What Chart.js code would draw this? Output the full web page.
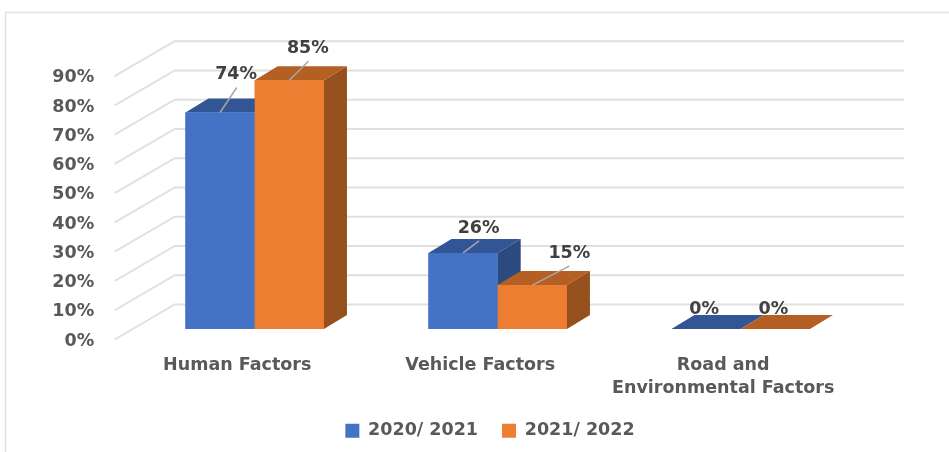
<!DOCTYPE html>
<html>
<head>
<meta charset="utf-8">
<style>
  html, body { margin: 0; padding: 0; background: #fff; }
  canvas { display: block; }
</style>
<script src="https://cdn.jsdelivr.net/npm/chart.js@4/dist/chart.umd.min.js"></script>
</head>
<body>
<canvas id="chart" width="949" height="452"></canvas>
<script>
const categories = ['Human Factors', 'Vehicle Factors', ['Road and', 'Environmental Factors']];
const seriesNames = ['2020/ 2021', '2021/ 2022'];
const values2021 = [74, 26, 0];
const values2022 = [85, 15, 0];
const yTicks = [0, 10, 20, 30, 40, 50, 60, 70, 80, 90];

// Colours per series: front, top, side
const FRONT = ['#4472C4', '#ED7D31'];
const TOP = ['#325596', '#B45F23'];
const SIDE = ['#2A4A80', '#95501D'];

// 3D look
const DEPTH_X = 23, DEPTH_Y = 14;      // bar depth
const WALL_X = 60, WALL_Y = 35;        // floor diagonal, left edge to back wall
const WALL_FRONT_X = 18.5, WALL_FRONT_Y = 10.5; // bars sit this far in from the front edge

// where each label sits relative to its bar [dx, dy], per series then category
const LABEL_POS = [[[16, -38], [15.5, -24.5], [-2, -20]], [[18.5, -32], [37, -32], [-2, -20]]];
const LEADER_END = [[[16.7, -25], [16, -12], null], [[19, -19], [37, -19], null]];

const FONT = '"DejaVu Sans", sans-serif';
const FONT_SIZE = 17.5;

const scene3d = {
    id: 'scene3d',
    afterLayout(chart) {
        // legend is centred on the picture's plot, not the canvas
        chart.legend.left = 16.5;
        chart.legend.right = 963.5;
        chart.legend.top = 398;
    },
    beforeDatasetsDraw(chart) {
        const { ctx, scales: { x, y } } = chart;
        ctx.save();

        // chart frame
        ctx.strokeStyle = '#E2E2E2';
        ctx.lineWidth = 1.5;
        ctx.beginPath();
        ctx.moveTo(5.5, 452);
        ctx.lineTo(5.5, 12.5);
        ctx.lineTo(949, 12.5);
        ctx.stroke();

        // wall gridlines
        ctx.strokeStyle = '#E0E0E0';
        ctx.lineWidth = 2;
        const leftEdge = x.left - WALL_FRONT_X;
        yTicks.forEach(t => {
            const py = y.getPixelForValue(t) + WALL_FRONT_Y;
            ctx.beginPath();
            ctx.moveTo(leftEdge, py);
            ctx.lineTo(leftEdge + WALL_X, py - WALL_Y);
            ctx.lineTo(904, py - WALL_Y);
            ctx.stroke();
        });
        ctx.restore();
    },
    afterDatasetsDraw(chart) {
        const { ctx } = chart;
        ctx.save();

        // repaint the bars with depth, first series at the back
        chart.data.datasets.forEach((ds, s) => {
            chart.getDatasetMeta(s).data.forEach(bar => {
                const l = bar.x - bar.width / 2, r = bar.x + bar.width / 2;
                ctx.fillStyle = SIDE[s];
                ctx.beginPath();
                ctx.moveTo(r, bar.y);
                ctx.lineTo(r + DEPTH_X, bar.y - DEPTH_Y);
                ctx.lineTo(r + DEPTH_X, bar.base - DEPTH_Y);
                ctx.lineTo(r, bar.base);
                ctx.closePath();
                ctx.fill();

                ctx.fillStyle = TOP[s];
                ctx.beginPath();
                ctx.moveTo(l, bar.y);
                ctx.lineTo(l + DEPTH_X, bar.y - DEPTH_Y);
                ctx.lineTo(r + DEPTH_X, bar.y - DEPTH_Y);
                ctx.lineTo(r, bar.y);
                ctx.closePath();
                ctx.fill();

                bar.draw(ctx);
            });
        });

        // data labels and leader lines
        ctx.textAlign = 'center';
        ctx.textBaseline = 'middle';
        ctx.font = 'bold ' + FONT_SIZE + 'px ' + FONT;
        chart.data.datasets.forEach((ds, s) => {
            chart.getDatasetMeta(s).data.forEach((bar, i) => {
                const end = LEADER_END[s][i];
                if (end) {
                    ctx.strokeStyle = '#A6A6A6';
                    ctx.lineWidth = 1.5;
                    ctx.beginPath();
                    ctx.moveTo(bar.x, bar.y);
                    ctx.lineTo(bar.x + end[0], bar.y + end[1]);
                    ctx.stroke();
                }
                const pos = LABEL_POS[s][i];
                ctx.fillStyle = '#404040';
                ctx.fillText(ds.data[i] + '%', bar.x + pos[0], bar.y + pos[1]);
            });
        });
        ctx.restore();
    }
};

new Chart(document.getElementById('chart'), {
    type: 'bar',
    data: {
        labels: categories,
        datasets: [
            { label: seriesNames[0], data: values2021, backgroundColor: FRONT[0] },
            { label: seriesNames[1], data: values2022, backgroundColor: FRONT[1] }
        ]
    },
    options: {
        responsive: false,
        animation: false,
        layout: { padding: { left: 0, right: 86.8, top: 65.7, bottom: 0 } },
        datasets: { bar: { categoryPercentage: 0.57, barPercentage: 1 } },
        plugins: {
            tooltip: { enabled: false },
            legend: {
                position: 'bottom',
                labels: {
                    color: '#595959',
                    boxWidth: 14,
                    boxHeight: 14,
                    padding: 24,
                    font: { family: FONT, size: FONT_SIZE, weight: 'bold' }
                }
            }
        },
        scales: {
            x: {
                grid: { display: false },
                border: { display: false },
                afterFit(scale) { scale.height = 71.5; },
                ticks: {
                    color: '#595959',
                    maxRotation: 0,
                    autoSkip: false,
                    padding: 17,
                    labelOffset: -17.5,
                    font: { family: FONT, size: FONT_SIZE, weight: 'bold', lineHeight: 1.3 }
                }
            },
            y: {
                min: 0,
                max: 90,
                grid: { display: false },
                border: { display: false },
                afterFit(scale) { scale.width = 133.2; },
                afterBuildTicks(scale) { scale.ticks = yTicks.map(value => ({ value })); },
                ticks: {
                    color: '#595959',
                    padding: 31,
                    labelOffset: 12,
                    callback: v => v + '%',
                    font: { family: FONT, size: FONT_SIZE, weight: 'bold' }
                }
            }
        }
    },
    plugins: [scene3d]
});
</script>
</body>
</html>
